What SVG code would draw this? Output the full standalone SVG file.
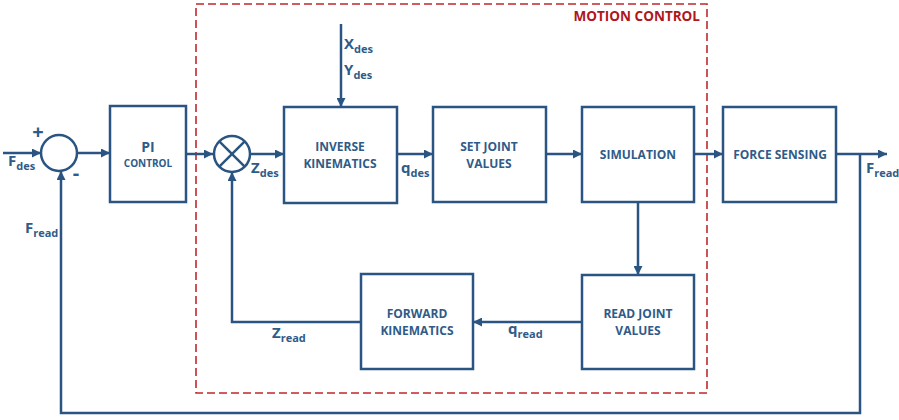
<svg xmlns="http://www.w3.org/2000/svg" width="899" height="420" viewBox="0 0 899 420">
<defs>
<marker id="ah" viewBox="0 0 10 10" refX="10" refY="5" markerWidth="9" markerHeight="9" markerUnits="userSpaceOnUse" orient="auto">
<path d="M0,0 L10,5 L0,10 z" fill="#2a5582"/>
</marker>
<style>
.box{fill:#fff;stroke:#2a5582;stroke-width:2.5}
.ln{fill:none;stroke:#2a5582;stroke-width:2.5}
.arr{fill:none;stroke:#2a5582;stroke-width:2.5;marker-end:url(#ah)}
.t{font-family:"Open Sans","Liberation Sans",sans-serif;font-weight:bold;fill:#2f5b88;font-size:12px;text-anchor:middle}
.lb{font-family:"Open Sans","Liberation Sans",sans-serif;font-weight:bold;fill:#2f5b88;font-size:15px}
.sb{font-size:11px}
.pm{font-family:"Open Sans","Liberation Sans",sans-serif;font-weight:bold;fill:#2f5b88;font-size:20px;text-anchor:middle}
</style>
</defs>
<rect width="899" height="420" fill="#fff"/>
<g id="motion-control">
<rect x="196" y="4" width="511" height="389" fill="none" stroke="#c0282d" stroke-width="1.6" stroke-dasharray="8,4"/>
<text x="700" y="21" font-family="Open Sans, Liberation Sans, sans-serif" font-weight="bold" font-size="13.5" fill="#b0161c" text-anchor="end">MOTION CONTROL</text>
</g>
<g id="connectors">
<line class="arr" x1="3" y1="153" x2="41" y2="153"/>
<line class="arr" x1="77" y1="153" x2="110" y2="153"/>
<line class="arr" x1="186" y1="154" x2="213" y2="154"/>
<line class="arr" x1="250" y1="154" x2="284" y2="154"/>
<line class="arr" x1="341" y1="24" x2="341" y2="107"/>
<line class="arr" x1="397" y1="154" x2="433" y2="154"/>
<line class="arr" x1="546" y1="154" x2="582" y2="154"/>
<line class="arr" x1="694" y1="154" x2="723" y2="154"/>
<line class="arr" x1="836" y1="154" x2="887" y2="154"/>
<line class="arr" x1="638" y1="202" x2="638" y2="275"/>
<line class="arr" x1="582" y1="322" x2="473" y2="322"/>
<polyline class="arr" points="361,322 232,322 232,172"/>
<polyline class="arr" points="860,154 860,413 61,413 61,171"/>
</g>
<g id="sum">
<circle cx="59" cy="153" r="18" class="box"/>
<text class="pm" x="38" y="139">+</text>
<text class="pm" x="76" y="180">-</text>
</g>
<g id="pi-control">
<rect class="box" x="110" y="106" width="76" height="96"/>
<text class="t" x="148" y="152" style="font-size:14px">PI</text>
<text class="t" x="148" y="167" style="font-size:10px">CONTROL</text>
</g>
<g id="mixer">
<circle cx="232" cy="154" r="18" class="box"/>
<line class="ln" x1="219.3" y1="141.3" x2="244.7" y2="166.7"/>
<line class="ln" x1="244.7" y1="141.3" x2="219.3" y2="166.7"/>
</g>
<g id="inverse-kinematics">
<rect class="box" x="284" y="107" width="113" height="96"/>
<text class="t" x="340" y="151">INVERSE</text>
<text class="t" x="340" y="168">KINEMATICS</text>
</g>
<g id="set-joint-values">
<rect class="box" x="433" y="107" width="113" height="95"/>
<text class="t" x="489" y="151">SET JOINT</text>
<text class="t" x="489" y="168">VALUES</text>
</g>
<g id="simulation">
<rect class="box" x="582" y="107" width="112" height="95"/>
<text class="t" x="638" y="159">SIMULATION</text>
</g>
<g id="force-sensing">
<rect class="box" x="723" y="107" width="113" height="95"/>
<text class="t" x="780" y="159">FORCE SENSING</text>
</g>
<g id="read-joint-values">
<rect class="box" x="582" y="275" width="112" height="94"/>
<text class="t" x="638" y="318">READ JOINT</text>
<text class="t" x="638" y="335">VALUES</text>
</g>
<g id="forward-kinematics">
<rect class="box" x="361" y="274" width="112" height="95"/>
<text class="t" x="417" y="318">FORWARD</text>
<text class="t" x="417" y="335">KINEMATICS</text>
</g>
<g id="labels">
<text class="lb" x="8" y="166">F<tspan class="sb" dy="4">des</tspan></text>
<text class="lb" x="25" y="233">F<tspan class="sb" dy="4">read</tspan></text>
<text class="lb" x="344" y="49">X<tspan class="sb" dy="4">des</tspan></text>
<text class="lb" x="344" y="75">Y<tspan class="sb" dy="4">des</tspan></text>
<text class="lb" x="251" y="173">Z<tspan class="sb" dy="4">des</tspan></text>
<text class="lb" x="401" y="173">q<tspan class="sb" dy="4">des</tspan></text>
<text class="lb" x="866" y="173">F<tspan class="sb" dy="4">read</tspan></text>
<text class="lb" x="272" y="338">Z<tspan class="sb" dy="4">read</tspan></text>
<text class="lb" x="508" y="334">q<tspan class="sb" dy="4">read</tspan></text>
</g>
</svg>
